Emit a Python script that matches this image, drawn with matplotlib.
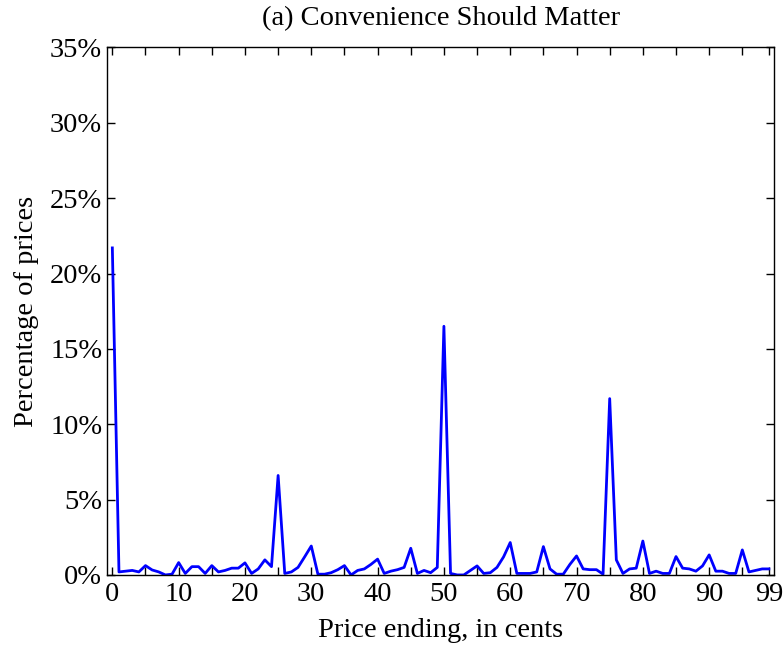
import matplotlib
matplotlib.use('Agg')
import matplotlib.pyplot as plt
from matplotlib.ticker import FuncFormatter, MultipleLocator

plt.rcParams['font.family'] = ['Liberation Serif', 'DejaVu Serif']

# price ending in cents, 0..99
cents = list(range(100))
# share of prices (%) with each ending
share = [21.7, 0.2, 0.25, 0.3, 0.2, 0.62, 0.33, 0.2, 0.0, 0.05,
         0.82, 0.1, 0.55, 0.55, 0.1, 0.62, 0.2, 0.3, 0.45, 0.45,
         0.8, 0.1, 0.4, 1.0, 0.55, 6.6, 0.1, 0.2, 0.5, 1.2,
         1.92, 0.05, 0.05, 0.15, 0.35, 0.62, 0.0, 0.3, 0.4, 0.7,
         1.05, 0.1, 0.25, 0.35, 0.5, 1.77, 0.1, 0.3, 0.15, 0.5,
         16.5, 0.1, 0.0, 0.0, 0.3, 0.6, 0.1, 0.15, 0.5, 1.2,
         2.15, 0.1, 0.1, 0.1, 0.2, 1.88, 0.4, 0.05, 0.05, 0.7,
         1.26, 0.4, 0.35, 0.35, 0.05, 11.7, 1.0, 0.1, 0.4, 0.45,
         2.25, 0.1, 0.25, 0.1, 0.1, 1.22, 0.45, 0.4, 0.25, 0.6,
         1.33, 0.25, 0.25, 0.1, 0.1, 1.66, 0.2, 0.3, 0.4, 0.4]

xtick_labels = [0, 10, 20, 30, 40, 50, 60, 70, 80, 90, 99]
ytick_vals = [0, 5, 10, 15, 20, 25, 30, 35]

fig = plt.figure(figsize=(7.83, 6.46), dpi=100)
ax = fig.add_axes([0.1367, 0.110, 0.852, 0.8165])

ax.plot(cents, share, color=(0, 0, 1), linewidth=2.0)

ax.set_xlim(-0.8, 99.8)
ax.set_ylim(0, 35)
ax.set_xticks(xtick_labels)
ax.xaxis.set_minor_locator(MultipleLocator(5))
ax.set_yticks(ytick_vals)
ax.yaxis.set_major_formatter(FuncFormatter(lambda v, p: '%d%%' % v))

ax.tick_params(which='both', direction='in', top=True, right=True,
               labelsize=20.5, width=1)
ax.tick_params(axis='x', pad=5)
ax.tick_params(which='major', length=6)
ax.tick_params(which='minor', length=6)
for s in ax.spines.values():
    s.set_linewidth(1)

ax.set_title('(a) Convenience Should Matter', fontsize=20.5, pad=16)
ax.set_xlabel('Price ending, in cents', fontsize=20.5, labelpad=8)
ax.set_ylabel('Percentage of prices', fontsize=20.5, labelpad=8)

fig.savefig('out.png', dpi=100)
